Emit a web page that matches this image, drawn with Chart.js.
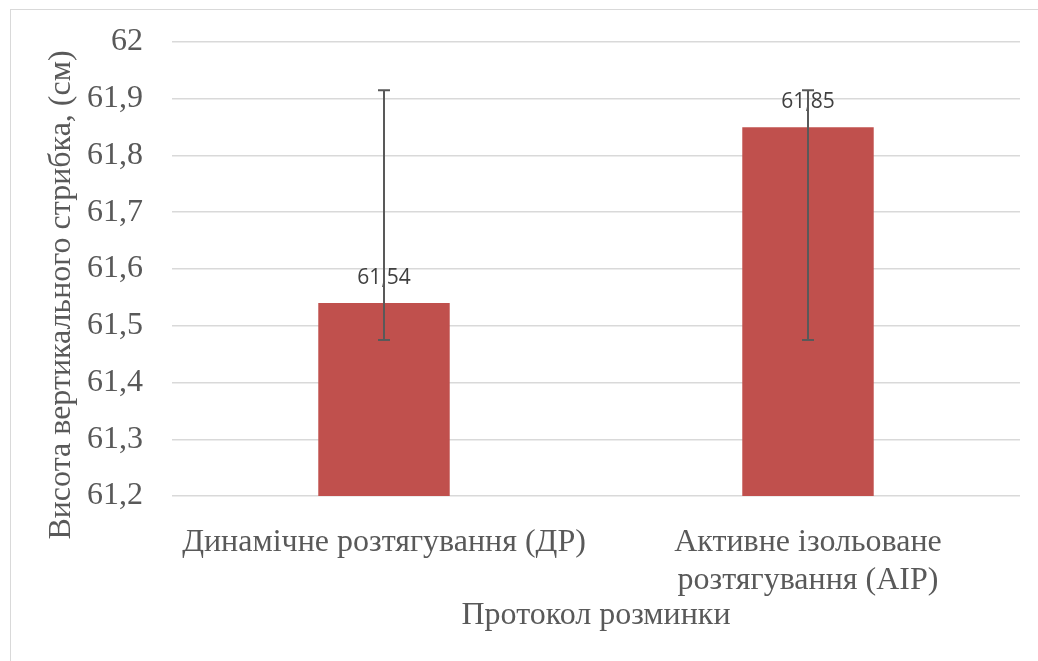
<!DOCTYPE html>
<html><head><meta charset="utf-8">
<script src="https://cdn.jsdelivr.net/npm/chart.js@4"></script>
<style>
html,body{margin:0;padding:0;background:#fff;overflow:hidden}
#wrap{position:relative;width:1038px;height:661px}
#frame{position:absolute;left:10px;top:9px;width:1040px;height:670px;border:1px solid #d9d9d9;box-sizing:border-box;pointer-events:none}
canvas{position:absolute;left:0;top:0}
</style></head>
<body><div id="wrap"><canvas id="c" width="1038" height="661"></canvas><div id="frame"></div></div>
<script>
const categories = [["Динамічне розтягування (ДР)"], ["Активне ізольоване", "розтягування (АІР)"]];
const values = [61.54, 61.85];
const errLow = [61.475, 61.475];
const errHigh = [61.915, 61.915];
const valueLabels = ["61,54", "61,85"];
const yMin = 61.2, yMax = 62, yStep = 0.1;
const yTitle = "Висота вертикального стрибка, (см)";
const xTitle = "Протокол розминки";

const extras = {
  id: 'extras',
  afterDatasetsDraw(chart) {
    const ctx = chart.ctx;
    const meta = chart.getDatasetMeta(0);
    const ys = chart.scales.y;
    ctx.save();
    meta.data.forEach((bar, i) => {
      ctx.fillStyle = '#404040';
      ctx.font = '21px "Open Sans"';
      ctx.textAlign = 'center';
      ctx.textBaseline = 'middle';
      ctx.fillText(valueLabels[i], bar.x, bar.y - 25);
    });
    meta.data.forEach((bar, i) => {
      const x = bar.x;
      const yl = ys.getPixelForValue(errLow[i]);
      const yh = ys.getPixelForValue(errHigh[i]);
      ctx.strokeStyle = '#595959';
      ctx.lineWidth = 2;
      ctx.beginPath();
      ctx.moveTo(x, yl); ctx.lineTo(x, yh);
      ctx.moveTo(x - 6, yl); ctx.lineTo(x + 6, yl);
      ctx.moveTo(x - 6, yh); ctx.lineTo(x + 6, yh);
      ctx.stroke();
    });
    // y axis title
    const ca = chart.chartArea;
    ctx.translate(62, (ca.top + ca.bottom) / 2 + 26);
    ctx.rotate(-Math.PI / 2);
    ctx.fillStyle = '#595959';
    ctx.font = '32px "Liberation Serif"';
    ctx.textAlign = 'center';
    ctx.textBaseline = 'middle';
    ctx.fillText(yTitle, 0, 0);
    ctx.restore();
  }
};

new Chart(document.getElementById('c'), {
  type: 'bar',
  data: {
    labels: categories,
    datasets: [{
      data: values,
      backgroundColor: '#c0504d',
      borderWidth: 0,
      barPercentage: 0.62,
      categoryPercentage: 0.5
    }]
  },
  options: {
    responsive: false,
    animation: false,
    devicePixelRatio: 1,
    plugins: { legend: { display: false }, tooltip: { enabled: false } },
    layout: { padding: { left: 0, right: 18, top: 42, bottom: 0 } },
    scales: {
      x: {
        grid: { display: false },
        border: { display: false },
        ticks: {
          color: '#595959',
          font: { family: '"Liberation Serif"', size: 32, lineHeight: 1.2 },
          padding: 19,
          maxRotation: 0, autoSkip: false
        },
        title: {
          display: true, text: xTitle, color: '#595959',
          font: { family: '"Liberation Serif"', size: 32, lineHeight: 1.2 },
          padding: { top: 0, bottom: 26 }
        },
        afterFit(s) { s.height = 165; s.paddingLeft = 0; s.paddingRight = 0; }
      },
      y: {
        min: yMin, max: yMax,
        grid: { color: '#d9d9d9', lineWidth: 1.5, drawTicks: false },
        border: { display: false },
        ticks: {
          stepSize: yStep,
          color: '#595959',
          font: { family: '"Liberation Serif"', size: 32 },
          padding: 29,
          callback: v => (Math.round(v * 10) / 10).toString().replace('.', ',')
        },
        afterFit(s) { s.width = 172; s.paddingTop = 0; s.paddingBottom = 0; }
      }
    }
  },
  plugins: [extras]
});
</script>
</body></html>
